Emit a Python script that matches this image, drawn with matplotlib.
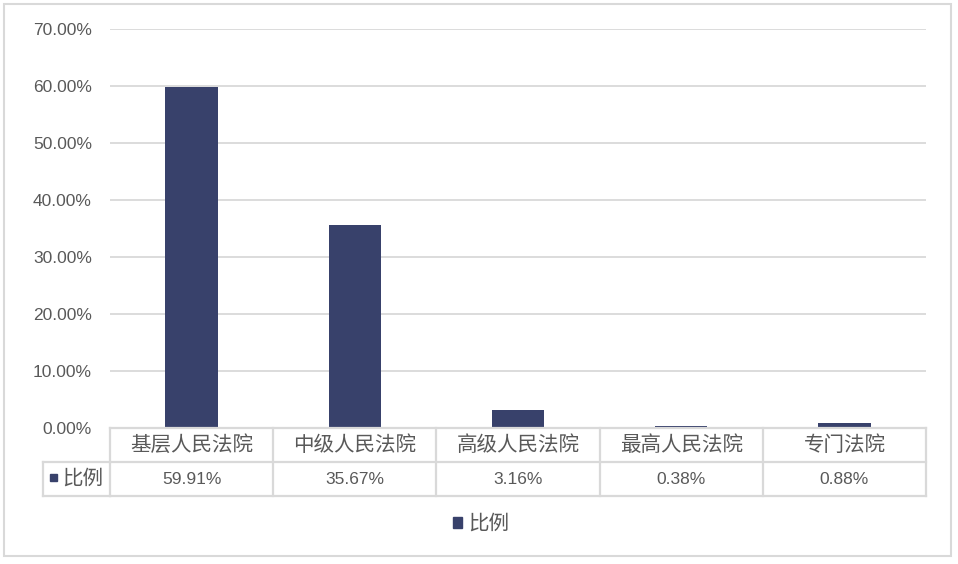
import matplotlib.pyplot as plt
import matplotlib.transforms as mtransforms
from matplotlib.lines import Line2D
from matplotlib.patches import Rectangle

categories = ['基层人民法院', '中级人民法院', '高级人民法院', '最高人民法院', '专门法院']
values = [59.91, 35.67, 3.16, 0.38, 0.88]
series_name = '比例'
yticks = [0, 10, 20, 30, 40, 50, 60, 70]

bar_color = '#38416B'
grid_color = '#d9d9d9'
text_color = '#595959'

plt.rcParams['font.family'] = ['Liberation Sans', 'Noto Sans CJK SC']

W, H = 958, 564
fig = plt.figure(figsize=(W / 100, H / 100), dpi=100)

def fy(py):
    # pixel row (from top) -> figure fraction
    return 1 - py / H

ax = fig.add_axes([110 / W, fy(428), 816 / W, 399 / H])
ax.bar(range(len(values)), values, width=0.32, color=bar_color, zorder=3)
ax.set_xlim(-0.5, len(values) - 0.5)
ax.set_ylim(0, 70)
ax.set_yticks(yticks)
ax.set_yticklabels(['%.2f%%' % t for t in yticks], fontsize=12.5, color=text_color)
ax.tick_params(axis='y', length=0, pad=13)
ax.set_xticks([])
ax.grid(axis='y', color=grid_color, lw=1.3, zorder=0)
for s in ax.spines.values():
    s.set_visible(False)

# data table under the axis
tr = mtransforms.blended_transform_factory(ax.transData, fig.transFigure)
y0, y1, y2 = fy(428), fy(462), fy(496)
n = len(categories)
lkw = dict(color=grid_color, lw=1.6, zorder=5)
for yy in (y0, y1, y2):
    fig.add_artist(Line2D([-0.5, n - 0.5], [yy, yy], transform=tr, **lkw))
for i in range(n + 1):
    fig.add_artist(Line2D([i - 0.5, i - 0.5], [y0, y2], transform=tr, **lkw))
# left label column
xl = 43 / W
for yy in (y1, y2):
    fig.add_artist(Line2D([xl, 110 / W], [yy, yy], transform=fig.transFigure, **lkw))
fig.add_artist(Line2D([xl, xl], [y1, y2], transform=fig.transFigure, **lkw))

for i, (c, v) in enumerate(zip(categories, values)):
    fig.text(i, (y0 + y1) / 2, c, transform=tr, ha='center', va='center',
             fontsize=14.8, color=text_color)
    fig.text(i, (y1 + y2) / 2, '%.2f%%' % v, transform=tr, ha='center', va='center',
             fontsize=12.5, color=text_color)

fig.add_artist(Rectangle((50 / W, fy(481)), 7 / W, 7 / H, color=bar_color,
                         transform=fig.transFigure))
fig.text(62 / W, (y1 + y2) / 2, series_name, ha='left', va='center',
         fontsize=14.8, color=text_color)

# legend
leg = fig.legend(handles=[Rectangle((0, 0), 1, 1, color=bar_color)], labels=[series_name],
                 loc='center', bbox_to_anchor=(481 / W, fy(524)), frameon=False,
                 handlelength=0.45, handleheight=0.45, handletextpad=0.3,
                 prop={'size': 14.8})
for t in leg.get_texts():
    t.set_color(text_color)

# outer chart border
fig.add_artist(Rectangle((4 / W, fy(556)), 947 / W, 552 / H, fill=False,
                         edgecolor=grid_color, lw=1.5, transform=fig.transFigure))

fig.savefig('out.png', dpi=100, facecolor='white')
